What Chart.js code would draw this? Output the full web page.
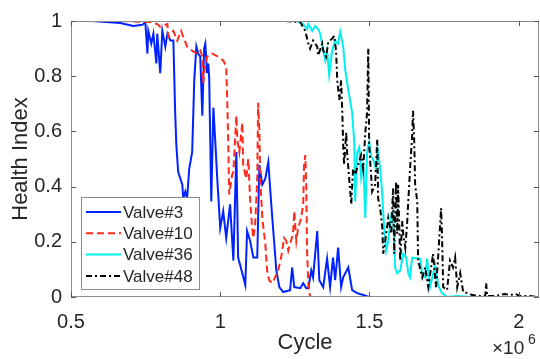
<!DOCTYPE html>
<html>
<head>
<meta charset="utf-8">
<script src="https://cdn.jsdelivr.net/npm/chart.js@4.4.1/dist/chart.umd.min.js"></script>
<style>
html, body { margin: 0; padding: 0; background: #fff; }
</style>
</head>
<body>
<canvas id="health_index" width="540" height="359"></canvas>
<script>
var seriesNames = ["Valve#3", "Valve#10", "Valve#36", "Valve#48"];
var seriesColors = ["#0022ff", "#ff2a1a", "#00f0f0", "#000000"];
var xTicks = [0.5, 1, 1.5, 2];
var yTicks = [0, 0.2, 0.4, 0.6, 0.8, 1];

// cycle values are in units of 10^6
var v3Cycle = [0.571,0.665,0.709,0.739,0.749,0.756,0.759,0.769,0.776,0.786,
  0.789,0.799,0.806,0.816,0.823,0.833,0.843,0.849,0.853,0.859,
  0.873,0.876,0.883,0.889,0.896,0.906,0.913,0.920,0.926,0.933,
  0.940,0.946,0.950,0.956,0.960,0.963,0.970,0.977,0.983,0.990,
  1.000,1.010,1.020,1.033,1.044,1.054,1.060,1.074,1.084,1.090,
  1.100,1.111,1.124,1.131,1.141,1.151,1.161,1.171,1.177,1.188,
  1.198,1.211,1.234,1.241,1.248,1.268,1.278,1.288,1.295,1.305,
  1.311,1.325,1.332,1.345,1.358,1.368,1.378,1.385,1.395,1.405,
  1.412,1.429,1.442,1.459,1.479,1.499];
var v3Health = [1.000,0.993,0.982,0.986,0.996,0.882,0.964,0.918,0.954,0.846,
  0.954,0.811,0.964,0.907,0.954,0.929,0.929,0.668,0.550,0.454,
  0.407,0.357,0.382,0.357,0.464,0.525,0.786,0.907,0.882,0.871,
  0.657,0.900,0.918,0.811,0.846,0.793,0.346,0.686,0.571,0.429,
  0.250,0.311,0.214,0.336,0.132,0.525,0.143,0.086,0.043,0.239,
  0.204,0.143,0.143,0.479,0.407,0.429,0.489,0.336,0.250,0.096,
  0.036,0.018,0.025,0.107,0.036,0.032,0.050,0.032,0.032,0.096,
  0.071,0.239,0.061,0.036,0.139,0.036,0.143,0.061,0.179,0.036,
  0.071,0.107,0.025,0.014,0.007,0];

var v10Cycle = [0.598,0.675,0.766,0.789,0.799,0.823,0.826,0.843,0.856,0.869,
  0.876,0.889,0.910,0.923,0.933,0.940,0.943,0.950,0.956,0.973,
  0.993,1.010,1.020,1.023,1.027,1.030,1.040,1.044,1.054,1.057,
  1.064,1.074,1.077,1.087,1.094,1.100,1.107,1.111,1.117,1.124,
  1.127,1.131,1.134,1.141,1.151,1.157,1.164,1.174,1.184,1.194,
  1.204,1.211,1.214,1.221,1.228,1.234,1.244,1.248,1.255,1.261,
  1.271,1.278,1.281,1.285,1.288,1.291,1.295,1.301];
var v10Health = [1.000,1.000,0.996,0.989,0.979,0.989,0.943,0.964,0.929,0.964,
  0.943,0.907,0.889,0.882,0.893,0.871,0.775,0.846,0.871,0.882,
  0.871,0.857,0.836,0.729,0.550,0.371,0.443,0.454,0.657,0.571,
  0.525,0.632,0.479,0.429,0.500,0.357,0.250,0.214,0.264,0.429,
  0.704,0.607,0.429,0.286,0.193,0.096,0.061,0.050,0.071,0.096,
  0.143,0.193,0.214,0.204,0.168,0.193,0.229,0.311,0.204,0.250,
  0.286,0.336,0.479,0.514,0.407,0.168,0.050,0];

var v36Cycle = [1.255,1.278,1.291,1.295,1.308,1.318,1.328,1.335,1.345,1.352,
  1.358,1.365,1.375,1.385,1.395,1.402,1.412,1.419,1.429,1.442,
  1.449,1.452,1.459,1.466,1.472,1.479,1.486,1.492,1.499,1.506,
  1.512,1.522,1.529,1.536,1.543,1.549,1.556,1.563,1.573,1.579,
  1.586,1.593,1.603,1.613,1.623,1.630,1.636,1.643,1.670,1.677,
  1.687,1.693,1.703,1.720,1.730,1.743,1.760,1.794,1.847];
var v36Health = [1.000,0.989,0.971,0.989,0.964,0.982,0.971,0.954,0.893,0.857,
  0.893,0.804,0.893,0.929,0.918,0.961,0.907,0.821,0.750,0.668,
  0.561,0.346,0.525,0.543,0.436,0.489,0.286,0.525,0.561,0.507,
  0.500,0.464,0.525,0.464,0.371,0.250,0.168,0.204,0.300,0.311,
  0.107,0.086,0.096,0.157,0.143,0.086,0.071,0.143,0.139,0.079,
  0.071,0.139,0.036,0.114,0.043,0.014,0,0.004,0];

var v48Cycle = [1.218,1.268,1.285,1.295,1.301,1.311,1.325,1.328,1.342,1.345,
  1.355,1.362,1.375,1.382,1.388,1.392,1.399,1.405,1.409,1.412,
  1.415,1.422,1.425,1.432,1.439,1.445,1.452,1.462,1.472,1.479,
  1.486,1.492,1.496,1.499,1.509,1.519,1.526,1.529,1.536,1.543,
  1.546,1.553,1.556,1.563,1.573,1.579,1.583,1.589,1.593,1.596,
  1.603,1.610,1.613,1.620,1.626,1.630,1.636,1.643,1.646,1.650,
  1.653,1.660,1.663,1.677,1.687,1.697,1.710,1.713,1.723,1.730,
  1.740,1.743,1.747,1.760,1.770,1.780,1.787,1.794,1.804,1.814,
  1.831,1.844,1.871,1.888,1.891,1.894,1.921,1.954,1.971,1.988,
  2.005,2.038,2.065];
var v48Health = [1.000,0.996,0.964,0.918,0.900,0.929,0.907,0.875,0.918,0.893,
  0.871,0.925,0.936,0.946,0.893,0.786,0.714,0.786,0.668,0.550,
  0.479,0.596,0.525,0.429,0.336,0.464,0.443,0.479,0.514,0.464,
  0.596,0.668,0.900,0.550,0.382,0.407,0.571,0.357,0.321,0.250,
  0.157,0.204,0.229,0.286,0.229,0.393,0.157,0.418,0.229,0.407,
  0.132,0.275,0.229,0.179,0.264,0.346,0.464,0.586,0.675,0.561,
  0.407,0.346,0.132,0.071,0.107,0.036,0.132,0.157,0.036,0.143,
  0.321,0.229,0.036,0.025,0.132,0.107,0.143,0.036,0.086,0.018,
  0.014,0.007,0.004,0.004,0.050,0.004,0.004,0.011,0.007,0.011,
  0.004,0.004,0];

var FONT = 'Arial, "Liberation Sans", Helvetica, sans-serif';
var INK = '#262626';

function pairs(xs, ys) {
    return xs.map(function (x, i) { return { x: x, y: ys[i] }; });
}

function series(i, xs, ys, dash) {
    return {
        label: seriesNames[i],
        data: pairs(xs, ys),
        borderColor: seriesColors[i],
        borderWidth: 2,
        borderDash: dash,
        pointRadius: 0,
        tension: 0,
        fill: false,
        order: 4 - i
    };
}

// box, inward ticks, legend and the x10^6 exponent, MATLAB style
var axesDecor = {
    id: 'axesDecor',
    afterDraw: function (chart) {
        var c = chart.ctx, a = chart.chartArea;
        var xs = chart.scales.x, ys = chart.scales.y;
        c.save();
        c.lineWidth = 1;
        c.strokeStyle = '#8c8c8c';
        c.strokeRect(a.left + 0.5, a.top + 0.5, a.right - a.left - 1, a.bottom - a.top - 1);

        c.strokeStyle = '#555';
        c.beginPath();
        xTicks.forEach(function (v) {
            var px = Math.round(xs.getPixelForValue(v)) + 0.5;
            c.moveTo(px, a.bottom); c.lineTo(px, a.bottom - 5);
            c.moveTo(px, a.top); c.lineTo(px, a.top + 5);
        });
        yTicks.forEach(function (v) {
            var py = Math.round(ys.getPixelForValue(v)) + 0.5;
            c.moveTo(a.left, py); c.lineTo(a.left + 5, py);
            c.moveTo(a.right, py); c.lineTo(a.right - 5, py);
        });
        c.stroke();

        // legend, bottom left inside the axes
        var lx = 81, ly = 197, lw = 118, lh = 92, row = 21.3;
        c.fillStyle = '#fff';
        c.fillRect(lx, ly, lw, lh);
        c.strokeStyle = '#8c8c8c';
        c.strokeRect(lx + 0.5, ly + 0.5, lw, lh);
        c.font = '17px ' + FONT;
        c.textBaseline = 'middle';
        chart.data.datasets.forEach(function (ds, i) {
            var y = ly + 15 + i * row;
            c.strokeStyle = ds.borderColor;
            c.lineWidth = 2;
            c.setLineDash(ds.borderDash || []);
            c.beginPath();
            c.moveTo(lx + 5, y); c.lineTo(lx + 40, y);
            c.stroke();
            c.setLineDash([]);
            c.fillStyle = INK;
            c.fillText(ds.label, lx + 42, y + 1);
        });

        // exponent label under the right end of the x axis
        c.fillStyle = INK;
        c.textBaseline = 'alphabetic';
        c.font = '19px ' + FONT;
        c.fillText('\u00d710', 492, 354);
        c.font = '14px ' + FONT;
        c.fillText('6', 528, 344);
        c.restore();
    }
};

var ctx = document.getElementById('health_index').getContext('2d');

var healthChart = new Chart(ctx, {
    type: 'line',
    data: {
        datasets: [
            series(0, v3Cycle, v3Health, []),
            series(1, v10Cycle, v10Health, [7, 4]),
            series(2, v36Cycle, v36Health, []),
            series(3, v48Cycle, v48Health, [6, 3, 2, 3])
        ]
    },
    options: {
        responsive: false,
        animation: false,
        devicePixelRatio: 1,
        layout: { padding: { top: 17, right: 1, left: 0, bottom: 0 } },
        plugins: {
            legend: { display: false },
            tooltip: { enabled: false }
        },
        scales: {
            x: {
                type: 'linear',
                min: 0.5,
                max: 2.068,
                afterBuildTicks: function (s) { s.ticks = xTicks.map(function (v) { return { value: v }; }); },
                afterFit: function (s) { s.height = 62; },
                grid: { display: false, drawTicks: false },
                border: { display: false },
                ticks: {
                    color: INK, padding: 13, maxRotation: 0,
                    font: { size: 20, family: FONT },
                    callback: function (v) { return String(v); }
                },
                title: {
                    display: true, text: 'Cycle', color: INK,
                    font: { size: 22, family: FONT },
                    padding: { top: 0, bottom: 3 }
                }
            },
            y: {
                min: 0,
                max: 1,
                afterBuildTicks: function (s) { s.ticks = yTicks.map(function (v) { return { value: v }; }); },
                afterFit: function (s) { s.width = 71; },
                grid: { display: false, drawTicks: false },
                border: { display: false },
                ticks: {
                    color: INK, padding: 9,
                    font: { size: 20, family: FONT },
                    callback: function (v) { return String(v); }
                },
                title: {
                    display: true, text: 'Health Index', color: INK,
                    font: { size: 22, family: FONT },
                    padding: { top: 8, bottom: 0 }
                }
            }
        }
    },
    plugins: [axesDecor]
});
</script>
</body>
</html>
